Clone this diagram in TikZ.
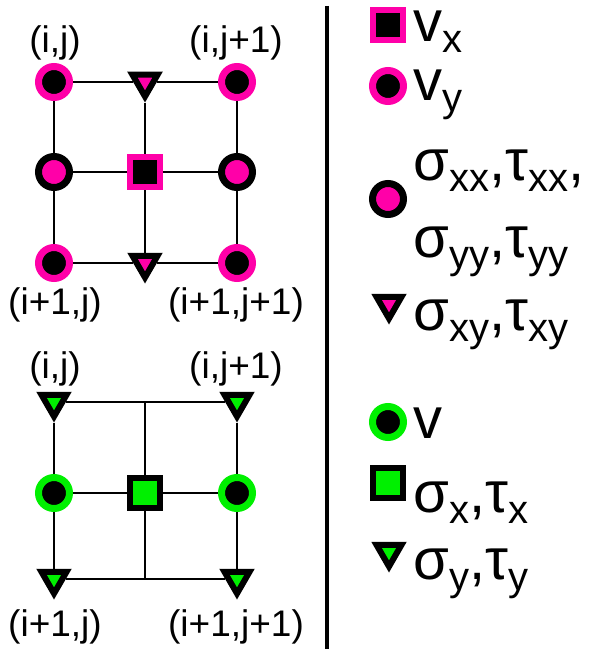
\documentclass[tikz,border=0pt]{standalone}
\usepackage{fontspec}
\setmainfont{Liberation Sans}
\usepackage{xcolor}
\definecolor{stagpink}{HTML}{FF00A8}
\definecolor{staggreen}{HTML}{00F000}
\usetikzlibrary{shapes.geometric}
\tikzset{
  ringnode/.style={circle, draw=#1, fill=black, line width=7pt, minimum size=31pt, inner sep=0pt},
  fillnode/.style={circle, draw=black, fill=#1, line width=7pt, minimum size=31pt, inner sep=0pt},
  sqnode/.style  ={rectangle, draw=#1, fill=black, line width=6pt, minimum size=30pt, inner sep=0pt},
  sqfill/.style  ={rectangle, draw=black, fill=#1, line width=6pt, minimum size=30pt, inner sep=0pt},
  trinode/.style ={regular polygon, regular polygon sides=3, shape border rotate=180,
                   draw=black, fill=#1, line width=6pt, minimum size=29pt, inner sep=0pt},
  gline/.style   ={line width=2pt},
  idx/.style     ={font=\fontsize{37}{37}\selectfont, inner sep=0pt},
  leg/.style     ={font=\fontsize{58}{58}\selectfont, inner sep=0pt, anchor=base west},
}
\newcommand{\lsub}[1]{\raisebox{-11pt}{\fontsize{40}{40}\selectfont #1}}

\begin{document}
\begin{tikzpicture}[x=1pt, y=-1pt]
  \useasboundingbox (0,0) rectangle (591,650);
  % staggered grid, top
  \node[ringnode=stagpink] (a11) at (54,82)  {};
  \node[trinode=stagpink]  (a12) at (145,82) {};
  \node[ringnode=stagpink] (a13) at (237,82) {};
  \node[fillnode=stagpink] (a21) at (54,172) {};
  \node[sqnode=stagpink]   (a22) at (145,172) {};
  \node[fillnode=stagpink] (a23) at (237,172) {};
  \node[ringnode=stagpink] (a31) at (54,263) {};
  \node[trinode=stagpink]  (a32) at (145,263) {};
  \node[ringnode=stagpink] (a33) at (237,263) {};
  \draw[gline] (a11) -- (a12) -- (a13);
  \draw[gline] (a21) -- (a22) -- (a23);
  \draw[gline] (a31) -- (a32) -- (a33);
  \draw[gline] (a11) -- (a21) -- (a31);
  \draw[gline] (a12) -- (a22) -- (a32);
  \draw[gline] (a13) -- (a23) -- (a33);
  \node[idx] (la11) at (55,43)  {(i,j)};
  \node[idx] (la13) at (236,43) {(i,j+1)};
  \node[idx] (la31) at (55,305) {(i+1,j)};
  \node[idx] (la33) at (236,305) {(i+1,j+1)};
  % staggered grid, bottom
  \node[trinode=staggreen]  (b11) at (54,402)  {};
  \coordinate               (b12) at (145,402);
  \node[trinode=staggreen]  (b13) at (237,402) {};
  \node[ringnode=staggreen] (b21) at (54,493)  {};
  \node[sqfill=staggreen]   (b22) at (145,493) {};
  \node[ringnode=staggreen] (b23) at (237,493) {};
  \node[trinode=staggreen]  (b31) at (54,579)  {};
  \coordinate               (b32) at (145,579);
  \node[trinode=staggreen]  (b33) at (237,579) {};
  \draw[gline] (b11) -- (b13);
  \draw[gline] (b21) -- (b22) -- (b23);
  \draw[gline] (b31) -- (b33);
  \draw[gline] (b11) -- (b21) -- (b31);
  \draw[gline] (b12) -- (b22) -- (b32);
  \draw[gline] (b13) -- (b23) -- (b33);
  \node[idx] (lb11) at (55,369)  {(i,j)};
  \node[idx] (lb13) at (236,369) {(i,j+1)};
  \node[idx] (lb31) at (55,627)  {(i+1,j)};
  \node[idx] (lb33) at (236,627) {(i+1,j+1)};
  % divider
  \coordinate (rtop) at (327,6);
  \coordinate (rbot) at (327,649);
  \draw[line width=4pt] (rtop) -- (rbot);
  % legend
  \node[sqnode=stagpink]    (k1) at (388,25)  {};
  \node[leg] (t1) at (413,42)  {v\lsub{x}};
  \node[ringnode=stagpink]  (k2) at (388,86)  {};
  \node[leg] (t2) at (413,101) {v\lsub{y}};
  \node[fillnode=stagpink]  (k3) at (388,199) {};
  \node[leg] (t3a) at (413,180) {σ\lsub{xx},τ\lsub{xx},};
  \node[leg] (t3b) at (413,257) {σ\lsub{yy},τ\lsub{yy}};
  \node[trinode=stagpink]   (k4) at (389,304) {};
  \node[leg] (t4) at (413,330) {σ\lsub{xy},τ\lsub{xy}};
  \node[ringnode=staggreen] (k5) at (388,422) {};
  \node[leg] (t5) at (413,438) {v};
  \node[sqfill=staggreen]   (k6) at (388,483) {};
  \node[leg] (t6) at (413,512) {σ\lsub{x},τ\lsub{x}};
  \node[trinode=staggreen]  (k7) at (389,552) {};
  \node[leg] (t7) at (413,579) {σ\lsub{y},τ\lsub{y}};
\end{tikzpicture}
\end{document}
